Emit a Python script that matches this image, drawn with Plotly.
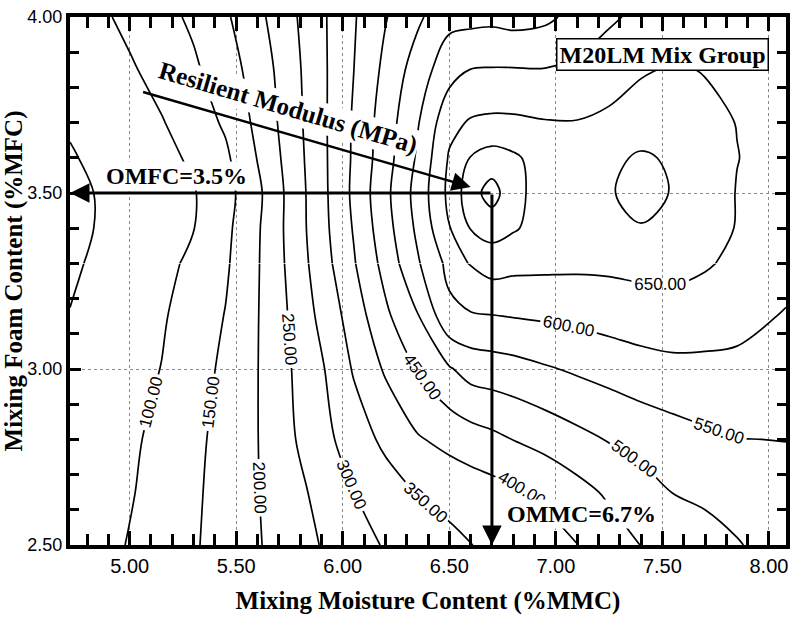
import plotly.graph_objects as go

# ---- data ----
mmc = [4.72, 4.85, 5.0, 5.15, 5.3, 5.45, 5.6, 5.75, 5.9, 6.05, 6.2, 6.35,
       6.5, 6.6, 6.7, 6.8, 6.95, 7.1, 7.25, 7.4, 7.55, 7.7, 7.85, 8.08]
mfc = [2.5, 2.65, 2.8, 3.0, 3.15, 3.3, 3.4, 3.5, 3.6, 3.7, 3.85, 4.0]

mr_250 = [65, 82, 103, 124, 145, 170, 196, 224, 252, 280, 304, 321, 338, 349, 359, 369, 384, 399, 425, 451, 466, 482, 497, 520]
mr_265 = [58, 73, 96, 119, 142, 169, 198, 231, 264, 299, 327, 353, 365, 374, 382, 391, 407, 433, 458, 480, 501, 509, 518, 530]
mr_280 = [55, 72, 91, 114, 138, 167, 199, 242, 283, 324, 361, 395, 415, 427, 438, 451, 468, 486, 503, 516, 529, 541, 549, 551]
mr_300 = [52, 67, 84, 101, 129, 160, 199, 247, 294, 354, 406, 452, 495, 520, 526, 532, 545, 557, 568, 580, 587, 588, 587, 577]
mr_315 = [51, 64, 80, 95, 121, 152, 198, 253, 312, 372, 440, 496, 587, 595, 598, 602, 607, 612, 620, 626, 629, 624, 617, 596]
mr_330 = [45, 55, 72, 88, 109, 143, 196, 260, 327, 395, 467, 544, 614, 655, 672, 665, 662, 660, 660, 664, 665, 655, 640, 620]
mr_340 = [38, 52, 68, 83, 99, 138, 194, 263, 333, 403, 480, 559, 648, 702, 720, 705, 680, 676, 685, 698, 688, 668, 648, 630]
mr_350 = [38, 52, 67, 82, 97, 132, 189, 263, 335, 409, 487, 567, 662, 730, 770, 718, 673, 668, 697, 712, 698, 680, 648, 630]
mr_360 = [46, 59, 74, 88, 107, 141, 202, 268, 337, 406, 479, 556, 655, 702, 720, 708, 678, 672, 690, 706, 694, 676, 651, 632]
mr_370 = [55, 68, 82, 97, 124, 157, 212, 273, 338, 405, 475, 545, 636, 655, 660, 659, 653, 652, 660, 675, 672, 662, 649, 632]
mr_385 = [60, 76, 94, 117, 142, 177, 221, 278, 339, 399, 462, 523, 581, 601, 603, 603, 602, 612, 628, 645, 655, 648, 632, 620]
mr_400 = [65, 90, 112, 134, 159, 193, 237, 287, 341, 395, 447, 491, 535, 535, 538, 532, 540, 565, 592, 612, 620, 622, 620, 615]

resilient_modulus = [mr_250, mr_265, mr_280, mr_300, mr_315, mr_330,
                     mr_340, mr_350, mr_360, mr_370, mr_385, mr_400]

level_start, level_end, level_step = 50, 750, 50
omfc = 3.5
ommc = 6.7
x_range = [4.72, 8.08]
y_range = [2.5, 4.0]
split_row = 5          # lower part (labels placed here) / upper part

serif_b = "Liberation Serif"
tickfam = "Liberation Sans Narrow, Liberation Sans, sans-serif"


def contour_part(rows, show_labels):
    return go.Contour(
        x=mmc, y=mfc[rows], z=resilient_modulus[rows],
        contours=dict(start=level_start, end=level_end, size=level_step,
                      coloring="none", showlabels=show_labels, labelformat=".2f",
                      labelfont=dict(family="Liberation Sans", size=17, color="black")),
        line=dict(color="black", width=1.7, smoothing=1),
        showscale=False, hoverinfo="skip")


fig = go.Figure([
    contour_part(slice(0, split_row + 1), True),
    contour_part(slice(split_row, None), False),
])

axis_common = dict(
    showline=True, linecolor="black", linewidth=4, mirror="allticks",
    ticks="inside", tickwidth=3, tickcolor="black",
    showgrid=True, gridcolor="#8a8a8a", gridwidth=1, griddash="dot",
    zeroline=False, tickformat=".2f", layer="above traces",
)

fig.update_xaxes(range=x_range, tick0=5.0, dtick=0.5, ticklen=14,
                 tickfont=dict(family=tickfam, size=20, color="black"),
                 minor=dict(dtick=0.1, ticks="inside", ticklen=11, tickwidth=3,
                            tickcolor="black", showgrid=False),
                 title=dict(text="<b>Mixing Moisture Content (%MMC)</b>",
                            font=dict(family=serif_b, size=25, color="black"),
                            standoff=16),
                 **axis_common)
fig.update_yaxes(range=y_range, tick0=2.5, dtick=0.5, ticklen=11,
                 tickfont=dict(family=tickfam, size=18, color="black"),
                 minor=dict(dtick=0.1, ticks="inside", ticklen=9, tickwidth=3,
                            tickcolor="black", showgrid=False),
                 title=dict(text="<b>Mixing Foam Content (%MFC)</b>",
                            font=dict(family=serif_b, size=25, color="black"),
                            standoff=3),
                 **axis_common)

annotations = [
    # optimum lines
    dict(x=x_range[0], y=omfc, ax=ommc, ay=omfc, xref="x", yref="y",
         axref="x", ayref="y", text="", showarrow=True, arrowhead=2,
         arrowsize=1.3, arrowwidth=3, arrowcolor="black"),
    dict(x=ommc, y=y_range[0], ax=ommc, ay=omfc, xref="x", yref="y",
         axref="x", ayref="y", text="", showarrow=True, arrowhead=2,
         arrowsize=1.3, arrowwidth=3, arrowcolor="black"),
    # resilient modulus pointer
    dict(x=6.60, y=3.517, ax=5.056, ay=3.788, xref="x", yref="y",
         axref="x", ayref="y", text="", showarrow=True, arrowhead=2,
         arrowsize=1.5, arrowwidth=2.5, arrowcolor="black"),
    dict(x=5.745, y=3.742, xref="x", yref="y", showarrow=False,
         text="<b>Resilient Modulus (MPa)</b>", textangle=16.5,
         font=dict(family=serif_b, size=25, color="black"), bgcolor="white"),
    dict(x=5.22, y=3.548, xref="x", yref="y", showarrow=False,
         text="<b>OMFC=3.5%</b>", bgcolor="white",
         font=dict(family=serif_b, size=24, color="black")),
    dict(x=7.12, y=2.588, xref="x", yref="y", showarrow=False,
         text="<b>OMMC=6.7%</b>", bgcolor="white",
         font=dict(family=serif_b, size=24, color="black")),
    dict(x=7.50, y=3.893, xref="x", yref="y", showarrow=False,
         text="<b>M20LM Mix Group</b>", bgcolor="white",
         bordercolor="black", borderwidth=1.5, borderpad=2,
         font=dict(family=serif_b, size=24, color="black")),
]

fig.update_layout(
    width=793, height=621,
    margin=dict(l=70, r=3, t=17, b=76, pad=0),
    paper_bgcolor="white", plot_bgcolor="white",
    showlegend=False, annotations=annotations,
)

fig.write_html("out.html")
